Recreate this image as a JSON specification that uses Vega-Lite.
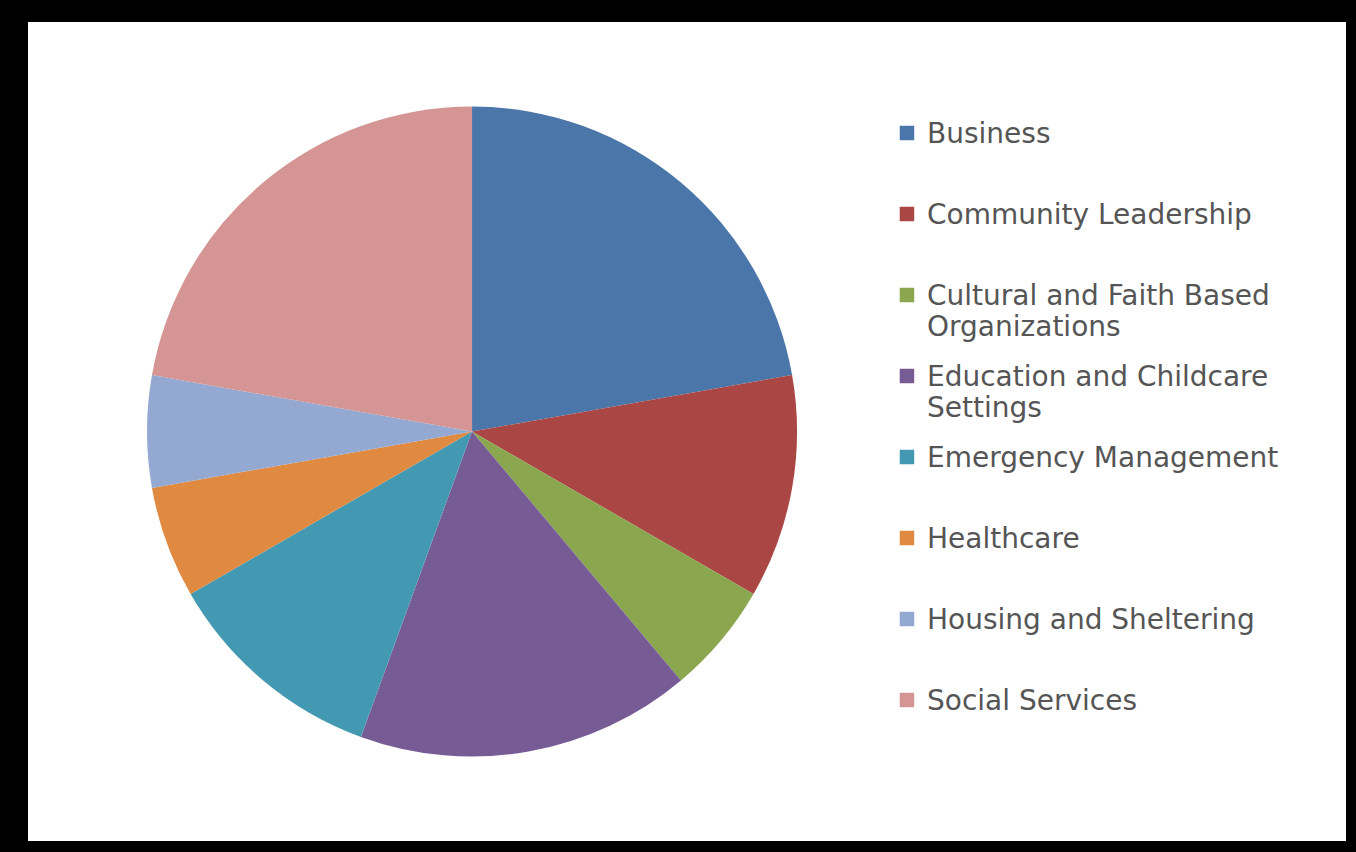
{
  "$schema": "https://vega.github.io/schema/vega-lite/v6.json",
  "background": "#000000",
  "padding": {"left": 28, "top": 22, "right": 10, "bottom": 11},
  "autosize": {"type": "none"},
  "width": 1318,
  "height": 819,
  "config": {"view": {"stroke": null, "fill": "#ffffff"}},
  "data": {
    "values": [
      {"idx": 1, "sector": "Business", "label": "Business", "count": 4},
      {"idx": 2, "sector": "Community Leadership", "label": "Community Leadership", "count": 2},
      {"idx": 3, "sector": "Cultural and Faith Based Organizations", "label": "Cultural and Faith Based\nOrganizations", "count": 1},
      {"idx": 4, "sector": "Education and Childcare Settings", "label": "Education and Childcare\nSettings", "count": 3},
      {"idx": 5, "sector": "Emergency Management", "label": "Emergency Management", "count": 2},
      {"idx": 6, "sector": "Healthcare", "label": "Healthcare", "count": 1},
      {"idx": 7, "sector": "Housing and Sheltering", "label": "Housing and Sheltering", "count": 1},
      {"idx": 8, "sector": "Social Services", "label": "Social Services", "count": 4}
    ]
  },
  "encoding": {
    "color": {
      "field": "sector",
      "type": "nominal",
      "scale": {
        "domain": ["Business", "Community Leadership", "Cultural and Faith Based Organizations", "Education and Childcare Settings", "Emergency Management", "Healthcare", "Housing and Sheltering", "Social Services"],
        "range": ["#4a76aa", "#aa4643", "#8aa64f", "#775b95", "#4499b2", "#df8a40", "#93a9d1", "#d59594"]
      },
      "legend": null
    }
  },
  "layer": [
    {
      "mark": {"type": "arc", "outerRadius": 325, "strokeWidth": 0},
      "encoding": {
        "theta": {"field": "count", "type": "quantitative", "stack": true},
        "order": {"field": "idx", "type": "quantitative"},
        "x": {"datum": 0.3369, "type": "quantitative", "scale": {"domain": [0, 1]}, "axis": null}
      }
    },
    {
      "mark": {"type": "square", "size": 210, "opacity": 1},
      "encoding": {
        "x": {"datum": 0.6669, "type": "quantitative", "scale": {"domain": [0, 1]}, "axis": null},
        "y": {
          "field": "sector",
          "type": "nominal",
          "scale": {
            "type": "point",
            "domain": ["Business", "Community Leadership", "Cultural and Faith Based Organizations", "Education and Childcare Settings", "Emergency Management", "Healthcare", "Housing and Sheltering", "Social Services"],
            "range": [111, 678],
            "padding": 0
          },
          "axis": null
        }
      }
    },
    {
      "mark": {"type": "text", "align": "left", "baseline": "alphabetic", "dy": 10, "lineBreak": "\n", "lineHeight": 31, "font": "DejaVu Sans", "fontSize": 28},
      "encoding": {
        "x": {"datum": 0.6821, "type": "quantitative", "scale": {"domain": [0, 1]}, "axis": null},
        "y": {
          "field": "sector",
          "type": "nominal",
          "scale": {
            "type": "point",
            "domain": ["Business", "Community Leadership", "Cultural and Faith Based Organizations", "Education and Childcare Settings", "Emergency Management", "Healthcare", "Housing and Sheltering", "Social Services"],
            "range": [111, 678],
            "padding": 0
          },
          "axis": null
        },
        "text": {"field": "label"},
        "color": {"value": "#555555"}
      }
    }
  ]
}
